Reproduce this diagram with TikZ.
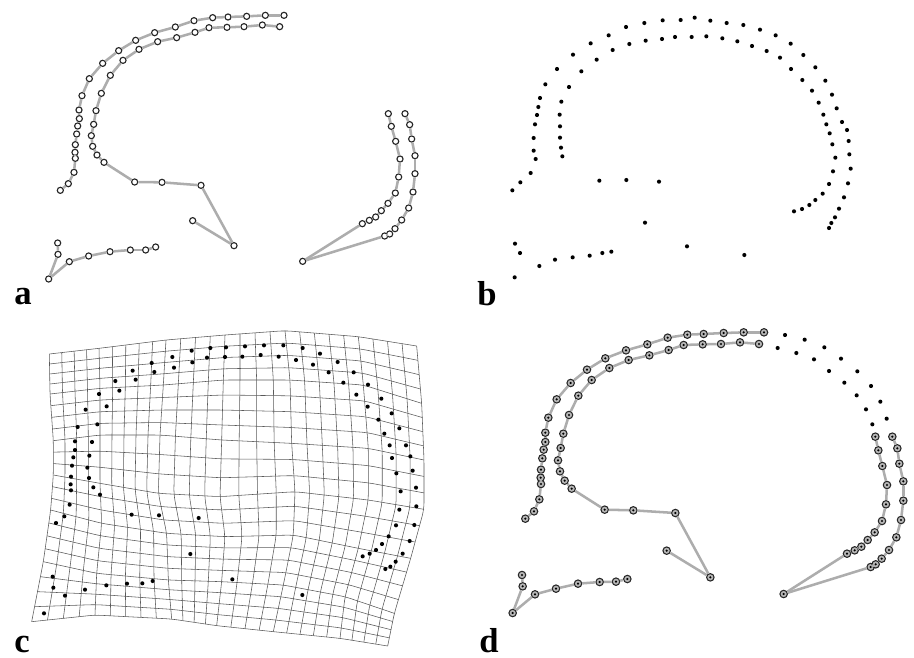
\documentclass[tikz,border=0pt]{standalone}
\usepackage{fontspec}
\setmainfont{Liberation Serif}
\usepackage{xcolor}

\def\latI{{0,4,9,13,17,22,26}}
\def\latJ{{0,4,8,11,14,18,22}}
\def\cellI{{0,0,0,0,1,1,1,1,1,2,2,2,2,3,3,3,3,4,4,4,4,4,5,5,5,5,5}}
\def\cellJ{{0,0,0,0,1,1,1,1,2,2,2,3,3,3,4,4,4,4,5,5,5,5,5}}
\def\latX{{148,150,160,160,152,130,95,
297,300,300,300,305,290,285,
498,490,480,475,500,505,515,
675,670,665,660,675,665,650,
855,870,875,885,880,850,820,
1075,1090,1105,1105,1075,1035,1020,
1250,1265,1272,1272,1232,1183,1163}}
\def\latY{{102,222,362,465,570,725,905,
85,205,345,490,610,760,885,
60,195,345,520,640,780,897,
45,180,360,530,650,785,917,
32,180,370,515,645,795,935,
50,195,385,540,685,830,955,
78,250,420,568,715,880,978}}

\newcommand{\limbchain}[3]{%
    \foreach \p [count=\n] in {#3} \node[#1] (#2-\n) at \p {};
    \foreach \p [count=\n, remember=\n as \m (initially 0)] in {#3} {
        \ifnum\n>1 \draw[limb] (#2-\m) -- (#2-\n); \fi
    }
}

\begin{document}
\begin{tikzpicture}[
    x=0.75pt, y=-0.75pt,
    limb/.style={draw=black!32, line width=1.9pt},
    openmark/.style={circle, draw=black!85, fill=white, line width=0.85pt, inner sep=0pt, minimum size=4.6pt},
    ringmark/.style={circle, draw=black!85, fill=black!28, line width=0.8pt, inner sep=0pt, minimum size=5.6pt,
        path picture={\fill[black] (path picture bounding box.center) circle (0.9pt);}},
    spot/.style={circle, fill=black, inner sep=0pt, minimum size=3.1pt},
    warpline/.style={draw=black!65, line width=0.42pt, rounded corners=5pt},
    tag/.style={anchor=base west, inner sep=0pt, font=\fontsize{26}{26}\selectfont\bfseries}
]
    \useasboundingbox (0,0) rectangle (914,657);

    \begin{scope}[x=0.25pt, y=-0.25pt]
        \limbchain{openmark}{aout}{(852,46),(796,46),(740,49),(684,51),(638,53),(582,62),(526,81),(464,98),(407,121),(356,152),(308,190),(268,236),(246,287),(237,330),(238,356),(233,378),(230,402),(226,434),(225,457),(226,475),(222,517),(205,551),(181,571)}
        \limbchain{openmark}{ain}{(839,80),(787,75),(732,80),(681,82),(627,83),(585,97),(530,113),(473,125),(417,148),(369,181),(331,226),(304,280),(288,332),(281,373),(274,407),(278,439),(291,465),(312,487),(404,546),(486,547),(603,556),(702,737),(578,662)}
        \limbchain{openmark}{alow}{(173,729),(174,763),(146,837),(208,785),(266,768),(330,755),(391,750),(437,750),(467,741)}
    \end{scope}
    \begin{scope}[shift={(290,90)}, x=0.25pt, y=-0.25pt]
        \limbchain{openmark}{aright}{(295,71),(304,109),(317,154),(330,207),(326,261),(316,309),(294,340),(274,362),(257,381),(238,391),(217,401),(38,514),(284,438),(299,432),(315,416),(335,390),(356,354),(369,306),(375,251),(375,197),(365,147),(359,104),(345,71)}
    \end{scope}
    \node[tag] (tag-a) at (14,304) {a};

    \begin{scope}[shift={(470,0)}, x=0.25pt, y=-0.25pt]
        \foreach \p [count=\n] in {(127,571),(151,547),(182,519),(197,477),(191,452),(191,414),(195,373),(201,345),(205,321),(210,294),(226,253),(261,207),(309,164),(362,130),(416,106),(468,81),(523,69),(578,61),(632,60),(674,53),(721,62),(770,69),(820,75),(870,89),(917,106),(962,131),(1000,165),(1036,202),(1066,242),(1086,284),(1100,325),(1116,366),(1131,390),(1136,423),(1138,463),(1142,506),(1134,550),(1122,592),(1107,626),(1095,652),(1084,669),(1077,684),
            (277,469),(273,443),(270,413),(270,379),(269,344),(274,305),(297,261),(334,214),(380,179),(428,150),(478,132),(527,122),(576,117),(615,111),(665,111),(709,109),(757,115),(802,124),(846,138),(890,153),(930,173),(963,207),(997,240),(1026,272),(1046,308),(1060,344),(1069,373),(1079,400),(1087,433),(1096,473),(1089,514),(1077,552),(1058,581),(1036,600),(1018,615),(996,627),(972,634),
            (388,542),(469,540),(567,545),(525,668),(651,739),(823,765),(135,731),(150,759),(134,832),(208,798),(255,779),(308,772),(359,767),(397,759),(424,755)}
            \node[spot] (b-\n) at \p {};
    \end{scope}
    \node[tag] (tag-b) at (477,305) {b};

    \begin{scope}[shift={(0,320)}, x=0.25pt, y=-0.25pt]
        \foreach \i in {0,...,26} {
            \foreach \j in {0,...,22} {
                \pgfmathtruncatemacro\ca{\cellI[\i]}
                \pgfmathtruncatemacro\cb{\cellJ[\j]}
                \pgfmathsetmacro\su{(\i-\latI[\ca])/(\latI[\ca+1]-\latI[\ca])}
                \pgfmathsetmacro\sv{(\j-\latJ[\cb])/(\latJ[\cb+1]-\latJ[\cb])}
                \pgfmathtruncatemacro\ka{\ca*7+\cb}
                \pgfmathtruncatemacro\kb{\ca*7+\cb+1}
                \pgfmathtruncatemacro\kc{\ca*7+7+\cb}
                \pgfmathtruncatemacro\kd{\ca*7+7+\cb+1}
                \pgfmathsetmacro\px{(1-\su)*((1-\sv)*\latX[\ka]+\sv*\latX[\kb])+\su*((1-\sv)*\latX[\kc]+\sv*\latX[\kd])}
                \pgfmathsetmacro\py{(1-\su)*((1-\sv)*\latY[\ka]+\sv*\latY[\kb])+\su*((1-\sv)*\latY[\kc]+\sv*\latY[\kd])}
                \coordinate (g-\i-\j) at (\px,\py);
            }
        }
        \foreach \j in {0,...,22}
            \draw[warpline] (g-0-\j) \foreach \i in {1,...,26} { -- (g-\i-\j) };
        \foreach \i in {0,...,26}
            \draw[warpline] (g-\i-0) \foreach \j in {1,...,22} { -- (g-\i-\j) };
        \foreach \p [count=\n] in {(168,609),(193,589),(209,554),(213,511),(212,493),(213,470),(216,437),(220,412),(225,390),(225,364),(233,321),(257,269),(297,222),(346,183),(398,152),(455,129),(517,111),(575,92),(631,84),(678,82),(735,79),(792,76),(850,76),(908,84),(960,101),(1013,126),(1061,157),(1104,194),(1144,236),(1175,280),(1198,325),(1218,376),(1231,409),(1238,452),(1248,503),(1249,559),(1243,615),(1229,663),(1208,701),(1187,725),(1171,740),(1156,747),
            (300,524),(280,502),(267,474),(262,443),(268,407),(276,366),(292,313),(320,259),(358,212),(407,179),(463,156),(522,143),(577,127),(621,113),(675,111),(727,110),(782,105),(836,110),(888,120),(939,134),(986,157),(1030,188),(1069,224),(1103,260),(1135,299),(1153,341),(1169,376),(1176,414),(1189,460),(1202,514),(1198,569),(1188,616),(1166,649),(1146,672),(1128,690),(1109,701),(1088,709),
            (395,584),(477,586),(596,594),(571,702),(697,778),(907,825),(158,770),(160,803),(132,880),(195,827),(255,809),(319,796),(381,791),(427,790),(458,783)}
            \node[spot] (c-\n) at \p {};
    \end{scope}
    \node[tag] (tag-c) at (14,652) {c};

    \begin{scope}[shift={(470,320)}, x=0.25pt, y=-0.25pt]
        \limbchain{ringmark}{dout}{(166,596),(192,574),(208,538),(213,492),(212,473),(213,449),(217,415),(221,389),(226,366),(226,338),(235,293),(260,238),(302,189),(351,149),(406,115),(468,91),(532,73),(593,53),(652,44),(701,42),(761,39),(821,37),(882,37)}
        \limbchain{ringmark}{din}{(867,72),(810,67),(753,72),(698,73),(641,75),(596,90),(538,106),(476,120),(418,144),(365,180),(325,227),(297,285),(280,341),(272,384),(264,421),(270,454),(284,482),(305,506),(404,569),(490,571),(616,579),(721,772),(590,692)}
        \limbchain{ringmark}{dlow}{(156,765),(158,799),(128,879),(195,823),(258,806),(324,791),(389,786),(438,785),(472,777)}
        \limbchain{ringmark}{dright}{(1216,350),(1225,391),(1237,438),(1251,495),(1248,553),(1236,603),(1214,637),(1193,660),(1174,680),(1154,691),(1131,701),(941,822),(1202,741),(1217,733),(1235,716),(1257,690),(1279,652),(1293,600),(1300,542),(1300,484),(1288,431),(1282,385),(1267,350)}
        \foreach \p [count=\n] in {(945,45),(1004,59),(1063,82),(1113,116),(1162,154),(1203,198),(1231,245),(1250,296),(923,84),(979,99),(1032,118),(1077,153),(1123,188),(1160,226),(1188,268),(1207,313)}
            \node[spot] (d-\n) at \p {};
    \end{scope}
    \node[tag] (tag-d) at (479,652) {d};
\end{tikzpicture}
\end{document}
